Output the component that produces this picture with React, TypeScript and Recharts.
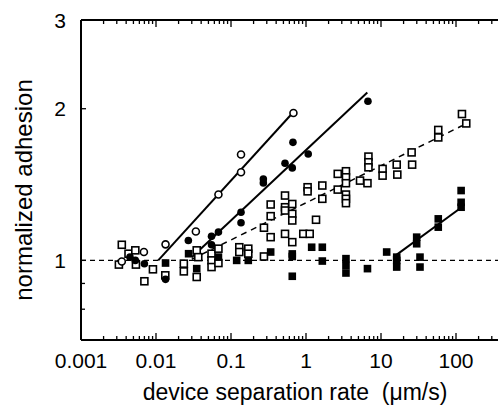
import React from 'react';
import { ComposedChart, Scatter, XAxis, YAxis } from 'recharts';

// ---------- axis ticks ----------
const xMajorTicks = [0.001, 0.01, 0.1, 1, 10, 100];
const xTickLabels = ['0.001', '0.01', '0.1', '1', '10', '100'];
const xMinorMultipliers = [2, 3, 4, 5, 6, 7, 8, 9];
const xDomain = [0.001, 363];

const yMajorTicks = [1, 2, 3];
const yTickLabels = ['1', '2', '3'];
const yMinorTicks = [0.8, 0.9];
const yDomain = [0.695, 3];

// ---------- data ----------
const openCircles = [
  { x: 0.0035, y: 0.995 },
  { x: 0.0069, y: 1.039 },
  { x: 0.0134, y: 1.076 },
  { x: 0.034, y: 1.141 },
  { x: 0.068, y: 1.351 },
  { x: 0.136, y: 1.496 },
  { x: 0.136, y: 1.622 },
  { x: 0.68, y: 1.961 },
];

const filledCircles = [
  { x: 0.0045, y: 1.015 },
  { x: 0.0053, y: 1.0 },
  { x: 0.007, y: 0.985 },
  { x: 0.0134, y: 0.917 },
  { x: 0.027, y: 1.095 },
  { x: 0.055, y: 1.116 },
  { x: 0.055, y: 1.074 },
  { x: 0.068, y: 1.138 },
  { x: 0.136, y: 1.246 },
  { x: 0.136, y: 1.188 },
  { x: 0.27, y: 1.451 },
  { x: 0.27, y: 1.425 },
  { x: 0.525, y: 1.559 },
  { x: 0.656, y: 1.526 },
  { x: 0.67, y: 1.715 },
  { x: 1.07, y: 1.626 },
  { x: 6.7, y: 2.07 },
];

const openSquares = [
  { x: 0.0035, y: 1.074 },
  { x: 0.0032, y: 0.981 },
  { x: 0.0043, y: 1.031 },
  { x: 0.0053, y: 1.047 },
  { x: 0.0054, y: 0.981 },
  { x: 0.007, y: 0.909 },
  { x: 0.0091, y: 0.96 },
  { x: 0.0133, y: 0.934 },
  { x: 0.0235, y: 0.985 },
  { x: 0.0235, y: 0.951 },
  { x: 0.0349, y: 1.047 },
  { x: 0.0366, y: 1.015 },
  { x: 0.0349, y: 0.927 },
  { x: 0.055, y: 1.031 },
  { x: 0.055, y: 1.0 },
  { x: 0.055, y: 0.97 },
  { x: 0.068, y: 1.055 },
  { x: 0.068, y: 0.988 },
  { x: 0.129, y: 1.062 },
  { x: 0.129, y: 1.039 },
  { x: 0.17, y: 1.055 },
  { x: 0.17, y: 1.031 },
  { x: 0.275, y: 1.161 },
  { x: 0.275, y: 1.018 },
  { x: 0.338, y: 1.112 },
  { x: 0.338, y: 1.291 },
  { x: 0.338, y: 1.224 },
  { x: 0.525, y: 1.345 },
  { x: 0.525, y: 1.275 },
  { x: 0.525, y: 1.256 },
  { x: 0.525, y: 1.129 },
  { x: 0.656, y: 1.294 },
  { x: 0.656, y: 1.237 },
  { x: 0.656, y: 1.2 },
  { x: 0.656, y: 1.087 },
  { x: 0.92, y: 1.129 },
  { x: 1.12, y: 1.129 },
  { x: 1.36, y: 1.204 },
  { x: 1.05, y: 1.397 },
  { x: 1.05, y: 1.371 },
  { x: 1.65, y: 1.408 },
  { x: 1.65, y: 1.325 },
  { x: 2.65, y: 1.485 },
  { x: 2.65, y: 1.382 },
  { x: 3.41, y: 1.503 },
  { x: 3.41, y: 1.462 },
  { x: 3.41, y: 1.423 },
  { x: 3.41, y: 1.351 },
  { x: 3.41, y: 1.325 },
  { x: 3.41, y: 1.299 },
  { x: 5.25, y: 1.44 },
  { x: 6.6, y: 1.423 },
  { x: 6.8, y: 1.607 },
  { x: 6.8, y: 1.566 },
  { x: 6.8, y: 1.53 },
  { x: 10.5, y: 1.519 },
  { x: 10.5, y: 1.473 },
  { x: 16.2, y: 1.549 },
  { x: 16.5, y: 1.48 },
  { x: 25.6, y: 1.638 },
  { x: 26, y: 1.549 },
  { x: 58, y: 1.815 },
  { x: 58, y: 1.754 },
  { x: 120, y: 1.952 },
  { x: 137, y: 1.87 },
];

const filledSquares = [
  { x: 0.0134, y: 0.988 },
  { x: 0.0272, y: 1.031 },
  { x: 0.0349, y: 0.963 },
  { x: 0.068, y: 1.015 },
  { x: 0.119, y: 1.0 },
  { x: 0.17, y: 1.0 },
  { x: 0.338, y: 1.039 },
  { x: 0.656, y: 1.018 },
  { x: 0.656, y: 1.03 },
  { x: 0.656, y: 0.93 },
  { x: 1.19, y: 1.062 },
  { x: 1.65, y: 1.062 },
  { x: 1.65, y: 0.997 },
  { x: 3.41, y: 1.008 },
  { x: 3.41, y: 0.977 },
  { x: 3.41, y: 0.944 },
  { x: 6.6, y: 0.963 },
  { x: 11.9, y: 1.039 },
  { x: 16.2, y: 1.015 },
  { x: 16.2, y: 1.0 },
  { x: 16.2, y: 0.97 },
  { x: 29.9, y: 1.112 },
  { x: 29.9, y: 1.079 },
  { x: 33.1, y: 1.015 },
  { x: 33.1, y: 0.97 },
  { x: 58, y: 1.209 },
  { x: 58, y: 1.164 },
  { x: 117, y: 1.376 },
  { x: 117, y: 1.304 },
  { x: 117, y: 1.275 },
];

// fitted / reference lines (end points)
const openCircleFit = [{ x: 0.0107, y: 1.0 }, { x: 0.644, y: 1.952 }];
const filledCircleFit = [{ x: 0.03, y: 1.014 }, { x: 6.57, y: 2.154 }];
const openSquareFit = [{ x: 0.03, y: 1.005 }, { x: 120, y: 1.85 }];
const filledSquareFit = [{ x: 14.6, y: 1.015 }, { x: 119, y: 1.275 }];
const unityLine = [{ x: 0.001, y: 1 }, { x: 363, y: 1 }];

// ---------- rendering helpers ----------
const FF = '"Liberation Sans", Arial, Helvetica, sans-serif';

const xMinorTicks: number[] = [];
xMajorTicks.forEach((d) => {
  xMinorMultipliers.forEach((m) => {
    const v = d * m;
    if (v <= xDomain[1]) xMinorTicks.push(v);
  });
});
const xAllTicks = [...xMajorTicks, ...xMinorTicks];
const yAllTicks = [...yMinorTicks, ...yMajorTicks];

function BottomTick(props: any) {
  const { x, y, payload } = props;
  const i = xMajorTicks.indexOf(payload.value);
  const major = i >= 0;
  return (
    <g>
      <line x1={x} x2={x} y1={y} y2={y - (major ? 7 : 4)} stroke="#000" strokeWidth={1.3} />
      {major && (
        <text x={x} y={y + 28} textAnchor="middle" fontSize={21} fontFamily={FF} fill="#000">
          {xTickLabels[i]}
        </text>
      )}
    </g>
  );
}

function TopTick(props: any) {
  const { x, y, payload } = props;
  const major = xMajorTicks.indexOf(payload.value) >= 0;
  return <line x1={x} x2={x} y1={y} y2={y + (major ? 7 : 4)} stroke="#000" strokeWidth={1.3} />;
}

function LeftTick(props: any) {
  const { x, y, payload } = props;
  const i = yMajorTicks.indexOf(payload.value);
  const major = i >= 0;
  return (
    <g>
      <line x1={x} x2={x + (major ? 5 : 4)} y1={y} y2={y} stroke="#000" strokeWidth={1.3} />
      {major && (
        <text x={x - 15} y={y} dy="0.36em" textAnchor="end" fontSize={21} fontFamily={FF} fill="#000">
          {yTickLabels[i]}
        </text>
      )}
    </g>
  );
}

const XLabel = () => (
  <text x={295} y={400} textAnchor="middle" fontSize={23} fontFamily={FF} fill="#000" style={{ whiteSpace: 'pre' }}>
    {'device separation rate  (\u03bcm/s)'}
  </text>
);

const YLabel = () => (
  <text x={32} y={190} transform="rotate(-90, 32, 190)" textAnchor="middle" fontSize={24} fontFamily={FF} fill="#000">
    normalized adhesion
  </text>
);

const OpenCircle = (p: any) => <circle cx={p.cx} cy={p.cy} r={3.5} fill="#fff" stroke="#000" strokeWidth={1.6} />;
const FilledCircle = (p: any) => <circle cx={p.cx} cy={p.cy} r={3.8} fill="#000" />;
const OpenSquare = (p: any) => (
  <rect x={p.cx - 3.5} y={p.cy - 3.5} width={7} height={7} fill="#fff" stroke="#000" strokeWidth={1.6} />
);
const FilledSquare = (p: any) => <rect x={p.cx - 3.8} y={p.cy - 3.8} width={7.6} height={7.6} fill="#000" />;
const NoShape = () => <g />;

export default function App() {
  return (
    <div style={{ position: 'absolute', left: 0, top: 0, width: 498, height: 406, background: '#fff' }}>
      <ComposedChart width={498} height={406} margin={{ top: 0, right: 0, bottom: 0, left: 0 }}>
        <XAxis
          xAxisId="bottom"
          dataKey="x"
          type="number"
          scale="log"
          domain={xDomain}
          allowDataOverflow
          ticks={xAllTicks}
          interval={0}
          tick={<BottomTick />}
          tickLine={false}
          tickSize={0}
          tickMargin={0}
          axisLine={{ stroke: '#000', strokeWidth: 2 }}
          height={66}
          label={<XLabel />}
        />
        <XAxis
          xAxisId="top"
          orientation="top"
          dataKey="x"
          type="number"
          scale="log"
          domain={xDomain}
          allowDataOverflow
          ticks={xAllTicks}
          interval={0}
          tick={<TopTick />}
          tickLine={false}
          tickSize={0}
          tickMargin={0}
          axisLine={{ stroke: '#000', strokeWidth: 2 }}
          height={20}
        />
        <YAxis
          dataKey="y"
          type="number"
          scale="log"
          domain={yDomain}
          allowDataOverflow
          ticks={yAllTicks}
          interval={0}
          tick={<LeftTick />}
          tickLine={false}
          tickSize={0}
          tickMargin={0}
          axisLine={{ stroke: '#000', strokeWidth: 2 }}
          width={81}
          label={<YLabel />}
        />

        <Scatter xAxisId="bottom" data={unityLine} line={{ stroke: '#000', strokeWidth: 1.4, strokeDasharray: '5 4' }} shape={<NoShape />} isAnimationActive={false} />
        <Scatter xAxisId="bottom" data={openSquareFit} line={{ stroke: '#000', strokeWidth: 1.5, strokeDasharray: '6 5' }} shape={<NoShape />} isAnimationActive={false} />
        <Scatter xAxisId="bottom" data={openCircleFit} line={{ stroke: '#000', strokeWidth: 2 }} shape={<NoShape />} isAnimationActive={false} />
        <Scatter xAxisId="bottom" data={filledCircleFit} line={{ stroke: '#000', strokeWidth: 2 }} shape={<NoShape />} isAnimationActive={false} />
        <Scatter xAxisId="bottom" data={filledSquareFit} line={{ stroke: '#000', strokeWidth: 2 }} shape={<NoShape />} isAnimationActive={false} />

        <Scatter xAxisId="bottom" data={openSquares} shape={<OpenSquare />} isAnimationActive={false} />
        <Scatter xAxisId="bottom" data={filledSquares} shape={<FilledSquare />} isAnimationActive={false} />
        <Scatter xAxisId="bottom" data={openCircles} shape={<OpenCircle />} isAnimationActive={false} />
        <Scatter xAxisId="bottom" data={filledCircles} shape={<FilledCircle />} isAnimationActive={false} />
      </ComposedChart>
    </div>
  );
}
